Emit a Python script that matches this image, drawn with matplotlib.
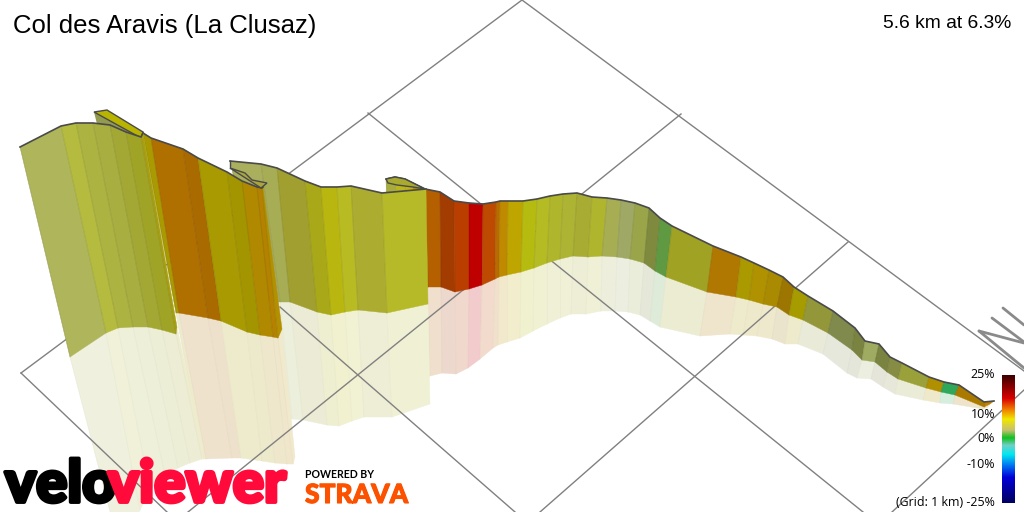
# -*- coding: utf-8 -*-
import numpy as np
import matplotlib
matplotlib.use('Agg')
import matplotlib.pyplot as plt
import matplotlib.patheffects as pe
from matplotlib.colors import LinearSegmentedColormap, to_rgb

title = 'Col des Aravis (La Clusaz)'
summary = '5.6 km at 6.3%'

# wall sections, back to front. top / bottom of the wall, then bottom of the reflection
s4_top_x = [386, 395, 405, 413, 425, 440, 454, 469, 483, 496, 500, 508, 523, 537, 550, 563, 577, 592, 607, 621, 635, 649, 660, 672, 713, 741, 754, 769, 783, 794, 808, 833, 855, 865, 879, 890, 902, 929, 944, 959, 984, 994]
s4_top_y = [179, 177, 179, 183, 189, 192, 201, 203, 204, 202, 201, 201, 201, 199, 196, 194, 193, 197, 198, 200, 203, 208, 218, 226, 246, 257, 263, 270, 277, 287, 296, 311, 328, 341, 344, 357, 363, 377, 382, 385, 402, 401]
s4_bot_x = [390, 400, 410, 418, 428, 441, 455, 469, 482, 495, 499, 507, 521, 534, 547, 560, 573, 588, 602, 617, 630, 644, 655, 666, 707, 736, 749, 763, 777, 789, 803, 828, 852, 862, 875, 887, 898, 926, 941, 955, 984, 990]
s4_bot_y = [290, 290, 290, 290, 287, 287, 292, 289, 285, 279, 277, 275, 272, 268, 263, 259, 256, 257, 256, 257, 259, 263, 271, 277, 292, 297, 300, 304, 307, 315, 320, 333, 350, 360, 362, 372, 379, 388, 392, 395, 407, 404]
s4_mir_x = [392, 402, 412, 420, 430, 442, 456, 468, 480, 493, 498, 507, 520, 533, 547, 560, 571, 586, 601, 615, 628, 640, 650, 660, 700, 730, 743, 757, 772, 785, 798, 823, 847, 857, 871, 883, 895, 923, 940, 953, 983, 988]
s4_mir_y = [378, 378, 378, 378, 376, 373, 374, 368, 359, 348, 345, 342, 338, 331, 324, 318, 314, 314, 311, 311, 312, 315, 321, 327, 336, 334, 335, 336, 339, 344, 344, 354, 373, 378, 379, 387, 394, 400, 403, 404, 409, 407]
s4_col = ['#a8ab3e', '#b9b61e', '#c0b210', '#b49000', '#b45f00', '#a23c00', '#b93e00', '#bf0000', '#bd4a00', '#b96a00', '#c08a00', '#bfa500', '#b6bb10', '#b5bb22', '#b0b62c', '#adb434', '#a8ac32', '#b0b52e', '#a6ad52', '#a0a865', '#9aa54a', '#7f8a3e', '#5f9a42', '#a0a224', '#b07800', '#aa9a00', '#b09200', '#aa8a00', '#9c7600', '#a69c00', '#93973a', '#7f8a4c', '#7a8340', '#a0ab62', '#7b8340', '#868c43', '#9aa13a', '#b09000', '#2fa85a', '#aa7a00', '#c08000']

s3_top_x = [230, 261, 277, 305, 321, 337, 351, 382, 426]
s3_top_y = [161, 164, 168, 181, 187, 187, 186, 193, 189]
s3_bot_x = [262, 280, 290, 317, 331, 345, 358, 387, 428]
s3_bot_y = [298, 302, 302, 312, 315, 312, 310, 313, 304]
s3_mir_x = [277, 292, 303, 327, 339, 352, 364, 392, 430]
s3_mir_y = [415, 419, 420, 425, 426, 421, 417, 417, 404]
s3_col = ['#a9af5c', '#a7ad55', '#a09f30', '#a8a818', '#b8b60f', '#b8bc22', '#acac30', '#b6ba28']

s2_top_x = [143, 151, 183, 198, 227, 242, 257, 262, 263]
s2_top_y = [133, 138, 149, 158, 172, 181, 187, 188, 187]
s2_bot_x = [176, 179, 208, 221, 247, 260, 273, 278, 282]
s2_bot_y = [313, 313, 318, 321, 332, 335, 337, 338, 329]
s2_mir_x = [203, 206, 232, 241, 262, 275, 287, 293, 295]
s2_mir_y = [459, 459, 458, 458, 461, 463, 464, 464, 457]
s2_col = ['#a89a00', '#b07000', '#a96a00', '#a89a00', '#a39500', '#b08900', '#b48200', '#b39000']

s1_top_x = [20, 61, 76, 93, 110, 126, 141, 143]
s1_top_y = [147, 126, 123, 123, 125, 132, 137, 133]
s1_bot_x = [70, 106, 118, 133, 148, 162, 176, 177]
s1_bot_y = [357, 333, 328, 327, 327, 330, 334, 327]
s1_mir_x = [120, 140, 150, 165, 178, 190, 202, 203]
s1_mir_y = [550, 510, 490, 475, 468, 463, 459, 447]
s1_col = ['#afb55b', '#b4bb3e', '#adb340', '#a8ae3f', '#a3a834', '#a0a426', '#a8a010']

# little road pieces at the hairpins
hp1_road_x = [94, 107, 143, 141]
hp1_road_y = [112, 110, 132, 138]
hp1_back_x = [94, 97, 141]
hp1_back_y = [112, 124, 138]
hp2_road_x = [230, 245, 252, 267, 261]
hp2_road_y = [168, 173, 180, 183, 188]
hp2_edge_x = [230, 230]
hp2_edge_y = [161, 168]
hp3_road_x = [386, 388, 397, 413, 425, 413, 405, 395]
hp3_road_y = [179, 183, 185, 187, 189, 183, 179, 177]

# grid lines, ends in picture pixels
grid_x0 = [522, 368, 280, 21, 21, 681, 848, 1024]
grid_y0 = [0, 113, 307, 373, 373, 114, 242, 390]
grid_x1 = [1024, 863, 515, 167, 522, 188, 540, 892]
grid_y1 = [371, 512, 512, 512, 0, 512, 512, 512]

north_x0 = [1003, 992, 979, 979]
north_y0 = [308, 318, 331, 331]
north_x1 = [1024, 1024, 1024, 1024]
north_y1 = [325, 342, 343, 368]

legend_labels = ['25%', '10%', '0%', '-10%', '(Grid: 1 km) -25%']
legend_y = [375, 414, 439, 464, 503]
bar_stops = [0, 0.18, 0.27, 0.345, 0.43, 0.49, 0.55, 0.62, 0.71, 0.80, 1]
bar_cols = ['#3a0000', '#d80000', '#f08000', '#f0e800', '#c8c070', '#10c020', '#70d0c8', '#00e8f0', '#0070f0', '#0000d8', '#000060']


def pale(c):
    # the reflection is the wall colour washed out on white
    r = np.array(to_rgb(c))
    return tuple(1 - (1 - r) * 0.2)


def draw_mirror(ax, bx, by, mx, my, col, z):
    for i in range(len(col)):
        ax.fill([bx[i], bx[i+1], mx[i+1], mx[i]], [by[i], by[i+1], my[i+1], my[i]],
                fc=pale(col[i]), ec=pale(col[i]), lw=0.3, zorder=z)
        ax.plot([bx[i], mx[i]], [by[i], my[i]], color='k', alpha=0.018, lw=0.8, zorder=z)


def draw_wall(ax, tx, ty, bx, by, col, z):
    for i in range(len(col)):
        ax.fill([tx[i], tx[i+1], bx[i+1], bx[i]], [ty[i], ty[i+1], by[i+1], by[i]],
                fc=col[i], ec=col[i], lw=0.3, zorder=z)
        ax.plot([tx[i], bx[i]], [ty[i], by[i]], color='k', alpha=0.08, lw=0.8, zorder=z)
    ax.plot(tx, ty, color='#4a4a4a', lw=1.2, zorder=z + 0.5, solid_joinstyle='round')


plt.rcParams['font.family'] = ['Liberation Sans', 'DejaVu Sans']
fig = plt.figure(figsize=(10.24, 5.12), dpi=100, facecolor='w')
ax = fig.add_axes([0, 0, 1, 1])

draw_mirror(ax, s4_bot_x, s4_bot_y, s4_mir_x, s4_mir_y, s4_col, 2.0)
draw_mirror(ax, s3_bot_x, s3_bot_y, s3_mir_x, s3_mir_y, s3_col, 2.1)
draw_mirror(ax, s2_bot_x, s2_bot_y, s2_mir_x, s2_mir_y, s2_col, 2.2)
draw_mirror(ax, s1_bot_x, s1_bot_y, s1_mir_x, s1_mir_y, s1_col, 2.3)

for i in range(len(grid_x0)):
    ax.plot([grid_x0[i], grid_x1[i]], [grid_y0[i], grid_y1[i]], color='#808080', lw=1.0, zorder=3)
for i in range(len(north_x0)):
    ax.plot([north_x0[i], north_x1[i]], [north_y0[i], north_y1[i]], color='#8a8a8a', lw=2.0,
            zorder=3, solid_capstyle='round')

draw_wall(ax, s4_top_x, s4_top_y, s4_bot_x, s4_bot_y, s4_col, 4)
ax.fill(hp3_road_x, hp3_road_y, fc='#a9ab30', ec='#4a4a4a', lw=1.0, zorder=4.6)
draw_wall(ax, s3_top_x, s3_top_y, s3_bot_x, s3_bot_y, s3_col, 5)
draw_wall(ax, s2_top_x, s2_top_y, s2_bot_x, s2_bot_y, s2_col, 6)
ax.plot(hp2_edge_x, hp2_edge_y, color='#4a4a4a', lw=1.0, zorder=6.6)
ax.fill(hp2_road_x, hp2_road_y, fc='#aaa73a', ec='#4a4a4a', lw=1.0, zorder=6.6)
ax.fill(hp1_back_x, hp1_back_y, fc='#939b50', ec='none', zorder=6.7)
ax.fill(hp1_road_x, hp1_road_y, fc='#b8b400', ec='#4a4a4a', lw=1.0, zorder=6.8)
draw_wall(ax, s1_top_x, s1_top_y, s1_bot_x, s1_bot_y, s1_col, 7)

ax.text(13, 26, title, fontsize=18.5, color='k', va='center', ha='left', zorder=10)
ax.text(1011, 23, summary, fontsize=13.85, color='k', va='center', ha='right', zorder=10)

cmap = LinearSegmentedColormap.from_list('grad', list(zip(bar_stops, bar_cols)))
ax.imshow(np.linspace(0, 1, 256)[:, None], cmap=cmap, extent=(1002, 1015, 503, 375),
          aspect='auto', zorder=9)
for lab, y in zip(legend_labels, legend_y):
    ax.text(995, y, lab, fontsize=8.9, family=['Open Sans', 'DejaVu Sans'], ha='right', va='center', zorder=10)

# logos. the stroke makes the type as fat as the real logo
heavy = dict(family=['Lato', 'DejaVu Sans'], weight='black', fontsize=42, ha='left', va='baseline', zorder=11)
ax.text(5, 502, 'velo', color='k', path_effects=[pe.withStroke(linewidth=2.8, foreground='k')], **heavy)
ax.text(108, 502, 'viewer', color='#ff0a3a', path_effects=[pe.withStroke(linewidth=2.8, foreground='#ff0a3a')], **heavy)
ax.text(305, 474, 'POWERED BY', fontsize=7.6, family=['Lato', 'DejaVu Sans'], weight='bold', va='center', zorder=11)
ax.text(305, 503, 'STRAVA', fontsize=19, family=['Lato', 'DejaVu Sans'], weight='black', color='#fc5200',
        va='baseline', zorder=11, path_effects=[pe.withStroke(linewidth=0.8, foreground='#fc5200')])

ax.set_xlim(0, 1024)
ax.set_ylim(512, 0)
ax.axis('off')
fig.savefig('out.png', dpi=100, facecolor='w')
